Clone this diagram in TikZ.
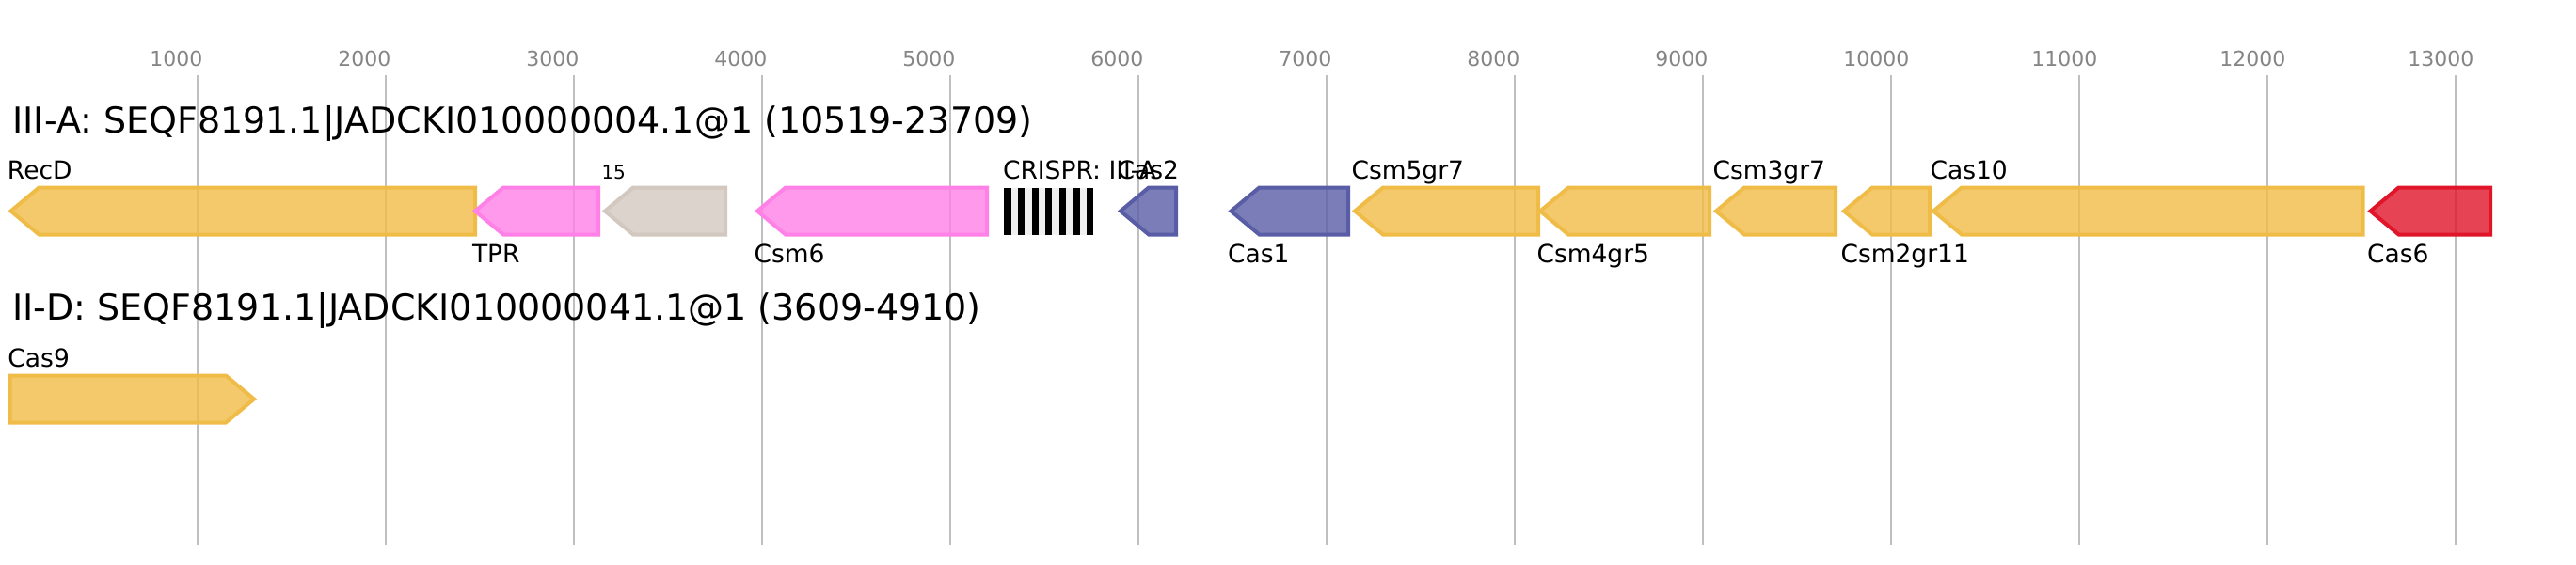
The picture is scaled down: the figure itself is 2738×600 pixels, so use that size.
\documentclass[tikz,border=0pt]{standalone}
\usepackage{fontspec}
\setmainfont{DejaVu Sans}
\definecolor{orng}{HTML}{F0BC48}
\definecolor{pinkc}{HTML}{FF80E6}
\definecolor{greyc}{HTML}{D2C8C0}
\definecolor{bluec}{HTML}{595DA6}
\definecolor{redc}{HTML}{E0152A}
\definecolor{gridgray}{HTML}{BFBFBF}
\definecolor{tickgray}{HTML}{858585}
\definecolor{crlight}{HTML}{F0F0F0}
% reverse gene: tip x, end x, top y, colour
\newcommand\grev[4]{\draw[gene=#4] (#1,{#3+25}) -- ({#1+30},#3) -- (#2,#3) -- (#2,{#3+50}) -- ({#1+30},{#3+50}) -- cycle;}
% forward gene: start x, tip x, top y, colour
\newcommand\gfwd[4]{\draw[gene=#4] (#1,#3) -- ({#2-30},#3) -- (#2,{#3+25}) -- ({#2-30},{#3+50}) -- (#1,{#3+50}) -- cycle;}
\begin{document}
\begin{tikzpicture}[x=1pt,y=-1pt,
  lbl/.style={anchor=base west,inner sep=0pt,outer sep=0pt,font=\fontsize{26.5}{30}\selectfont},
  smalllbl/.style={anchor=base west,inner sep=0pt,outer sep=0pt,font=\fontsize{20}{24}\selectfont},
  ttl/.style={anchor=base west,inner sep=0pt,outer sep=0pt,font=\fontsize{38}{44}\selectfont},
  tick/.style={anchor=base west,inner sep=0pt,outer sep=0pt,text=tickgray,font=\fontsize{22}{26}\selectfont},
  gridln/.style={draw=gridgray,line width=2pt},
  gene/.style={line width=4pt,draw=#1,fill=#1,fill opacity=0.8,draw opacity=1,line join=miter}]
\useasboundingbox (0,0) rectangle (2738,600);
\fill[white] (0,0) rectangle (2738,600);
% grid and ticks
\foreach \i in {1,...,13}{
  \draw[gridln] ({9.8+200*\i},80) -- ({9.8+200*\i},580);
  \node[tick] (t\i) at ({9.8+200*\i-50.5},70) {\i000};
}
% titles
\node[ttl] (title1) at (13.5,141.6) {III-A: SEQF8191.1|JADCKI010000004.1@1 (10519-23709)};
\node[ttl] (title2) at (13.5,340.5) {II-D: SEQF8191.1|JADCKI010000041.1@1 (3609-4910)};
% row 1 genes
\grev{11.5}{505}{199.5}{orng}
\grev{505}{636}{199.5}{pinkc}
\grev{643}{771}{199.5}{greyc}
\grev{805}{1049}{199.5}{pinkc}
\grev{1191}{1250}{199.5}{bluec}
\grev{1308.5}{1433}{199.5}{bluec}
\grev{1440}{1635}{199.5}{orng}
\grev{1637}{1817}{199.5}{orng}
\grev{1824}{1951}{199.5}{orng}
\grev{1960}{2051}{199.5}{orng}
\grev{2055}{2511.5}{199.5}{orng}
\grev{2519.5}{2647}{199.5}{redc}
% CRISPR array
\foreach \k in {0,...,12}{
  \pgfmathsetmacro\xa{1067.3+\k*95/13}
  \pgfmathsetmacro\xb{1067.3+(\k+1)*95/13}
  \pgfmathparse{mod(\k,2)==0 ? "black" : "crlight"}
  \fill[\pgfmathresult] (\xa,199.5) rectangle (\xb,249.5);
}
% row 1 labels
\node[lbl] (lRecD) at (8,190) {RecD};
\node[lbl] (lTPR) at (502,279) {TPR};
\node[smalllbl] (l15) at (639.5,190) {15};
\node[lbl] (lCsm6) at (801.5,279) {Csm6};
\node[lbl] (lCRISPR) at (1066,190) {CRISPR: III-A};
\node[lbl] (lCas2) at (1187.5,190) {Cas2};
\node[lbl] (lCas1) at (1305,279) {Cas1};
\node[lbl] (lCsm5) at (1436.5,190) {Csm5gr7};
\node[lbl] (lCsm4) at (1633.5,279) {Csm4gr5};
\node[lbl] (lCsm3) at (1820.5,190) {Csm3gr7};
\node[lbl] (lCsm2) at (1956.5,279) {Csm2gr11};
\node[lbl] (lCas10) at (2051.5,190) {Cas10};
\node[lbl] (lCas6) at (2516,279) {Cas6};
% row 2
\gfwd{10.5}{270}{399.5}{orng}
\node[lbl] (lCas9) at (8.5,390) {Cas9};
\end{tikzpicture}
\end{document}
